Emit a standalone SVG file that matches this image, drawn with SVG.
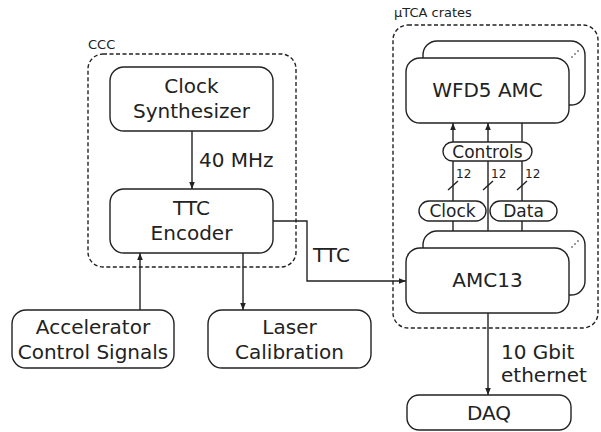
<svg xmlns="http://www.w3.org/2000/svg" width="601" height="432" viewBox="0 0 601 432">
<style>
text{font-family:"DejaVu Sans","Liberation Sans",sans-serif;fill:#222}
.t{font-size:20px;text-anchor:middle}
.l{font-size:20px}
.p{font-size:17px;text-anchor:middle}
.s{font-size:13px}
.n{font-size:12px}
.box{fill:#fff;stroke:#222;stroke-width:1.4}
.dash{fill:none;stroke:#222;stroke-width:1.4;stroke-dasharray:4 2.5}
.ln{fill:none;stroke:#222;stroke-width:1.4}
.dot{fill:#222}
</style>
<defs>
<marker id="ah" viewBox="0 0 10 10" refX="10" refY="5" markerWidth="7" markerHeight="7" markerUnits="userSpaceOnUse" orient="auto-start-reverse">
<path d="M0,1 L10,5 L0,9 Z" fill="#222"/>
</marker>
</defs>
<g id="ccc">
<rect class="dash" x="88" y="54" width="208" height="213" rx="15"/>
<text class="s" x="88" y="49">CCC</text>
</g>
<g id="utca">
<rect class="dash" x="393" y="25" width="205" height="303" rx="15"/>
<text class="s" x="394" y="17">µTCA crates</text>
</g>
<g id="connectors">
<path class="ln" d="M192,131 V189" marker-end="url(#ah)"/>
<path class="ln" d="M273,221 H307 V281 H406" marker-end="url(#ah)"/>
<path class="ln" d="M140,310 V253" marker-end="url(#ah)"/>
<path class="ln" d="M243,253 V310" marker-end="url(#ah)"/>
<path class="ln" d="M453,248 V123" marker-end="url(#ah)"/>
<path class="ln" d="M488,123 V248" marker-start="url(#ah)" marker-end="url(#ah)"/>
<path class="ln" d="M522,123 V248" marker-end="url(#ah)"/>
<path class="ln" d="M488,313 V395" marker-end="url(#ah)"/>
<path class="ln" d="M448,190 L458,181 M483,190 L493,181 M517,190 L527,181"/>
<text class="n" x="456" y="178">12</text>
<text class="n" x="491" y="178">12</text>
<text class="n" x="525" y="178">12</text>
<text class="l" x="199" y="167">40 MHz</text>
<text class="l" x="313" y="262">TTC</text>
<text class="l" x="501" y="359">10 Gbit</text>
<text class="l" x="501" y="382">ethernet</text>
</g>
<g id="clock-synth">
<rect class="box" x="110" y="67" width="163" height="64" rx="14"/>
<text class="t" x="191.5" y="93">Clock</text>
<text class="t" x="191.5" y="118">Synthesizer</text>
</g>
<g id="ttc-encoder">
<rect class="box" x="110" y="189" width="163" height="64" rx="14"/>
<text class="t" x="191.5" y="215">TTC</text>
<text class="t" x="191.5" y="240">Encoder</text>
</g>
<g id="accel">
<rect class="box" x="12" y="310" width="162" height="58" rx="14"/>
<text class="t" x="93" y="334">Accelerator</text>
<text class="t" x="93" y="359">Control Signals</text>
</g>
<g id="laser">
<rect class="box" x="208" y="310" width="163" height="58" rx="14"/>
<text class="t" x="289.5" y="334">Laser</text>
<text class="t" x="289.5" y="359">Calibration</text>
</g>
<g id="wfd5">
<rect class="box" x="423" y="41" width="162" height="64" rx="14"/>
<circle class="dot" cx="572" cy="57" r="0.8"/><circle class="dot" cx="575" cy="54" r="0.8"/><circle class="dot" cx="578" cy="51" r="0.8"/>
<rect class="box" x="406" y="58" width="163" height="65" rx="14"/>
<text class="t" x="487.5" y="97">WFD5 AMC</text>
</g>
<g id="amc13">
<rect class="box" x="423" y="231" width="162" height="64" rx="14"/>
<circle class="dot" cx="572" cy="247" r="0.8"/><circle class="dot" cx="575" cy="244" r="0.8"/><circle class="dot" cx="578" cy="241" r="0.8"/>
<rect class="box" x="406" y="248" width="163" height="65" rx="14"/>
<text class="t" x="487.5" y="287">AMC13</text>
</g>
<g id="controls">
<rect class="box" x="443" y="142" width="89" height="19" rx="9.5"/>
<text class="p" x="487.5" y="157.5">Controls</text>
</g>
<g id="clock">
<rect class="box" x="419" y="201" width="67" height="20" rx="10"/>
<text class="p" x="452.5" y="217">Clock</text>
</g>
<g id="data">
<rect class="box" x="490" y="201" width="67" height="20" rx="10"/>
<text class="p" x="523.5" y="217">Data</text>
</g>
<g id="daq">
<rect class="box" x="407" y="395" width="164" height="35" rx="12"/>
<text class="t" x="489" y="420">DAQ</text>
</g>
</svg>
